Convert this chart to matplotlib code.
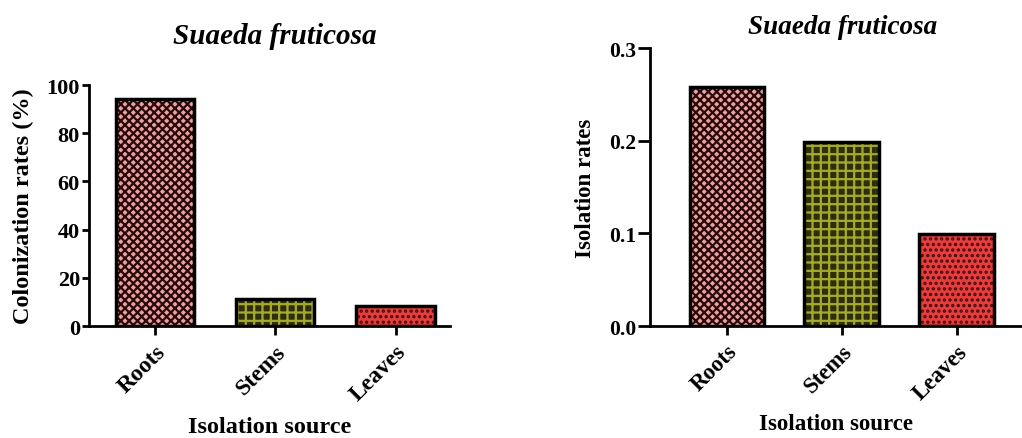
import numpy as np
import matplotlib.pyplot as plt

plt.rcParams['font.family'] = ['Liberation Serif', 'DejaVu Serif']
plt.rcParams['font.weight'] = 'bold'
plt.rcParams['hatch.linewidth'] = 1.6

sources = ['Roots', 'Stems', 'Leaves']
colonization = [94.2, 11.2, 8.3]
isolation = [0.258, 0.199, 0.099]
title = 'Suaeda fruticosa'

# base colour, hatch colour, hatch pattern per bar
bases = ['#e8a2a2', '#2e2e0a', '#e63e3e']
hatch_cols = ['#2a0808', '#a6aa2c', '#4a0c0c']
hatches = ['xxxx', '++', '...']


def draw(ax, vals, ymax, step, fmt, ylabel, tick_fs, xt_fs, lab_fs, xlab_fs, xlim,
         ytick_len, ypad, xpad):
    x = np.arange(len(sources))
    for i in range(len(sources)):
        ax.bar(x[i], vals[i], 0.65, color=bases[i], edgecolor=hatch_cols[i],
               hatch=hatches[i], linewidth=0)
    ax.bar(x, vals, 0.65, fill=False, edgecolor='black', linewidth=2.5)
    ax.set_xlim(*xlim)
    ax.set_ylim(0, ymax)
    ticks = np.arange(0, ymax + step / 2, step)
    ax.set_yticks(ticks)
    ax.set_yticklabels([fmt.format(v) for v in ticks], fontsize=tick_fs, fontweight='bold')
    ax.set_xticks(x)
    ax.set_xticklabels(sources, rotation=45, ha='right', rotation_mode='anchor',
                       fontsize=xt_fs, fontweight='bold')
    for s in ['top', 'right']:
        ax.spines[s].set_visible(False)
    for s in ['left', 'bottom']:
        ax.spines[s].set_linewidth(2)
    ax.tick_params(axis='y', width=2, length=ytick_len, pad=1.5)
    ax.tick_params(axis='x', width=2, length=6.5, pad=4)
    ax.set_ylabel(ylabel, fontsize=lab_fs, fontweight='bold', labelpad=ypad)
    ax.set_xlabel('Isolation source', fontsize=xlab_fs, fontweight='bold', labelpad=xpad)


fig = plt.figure(figsize=(10.22, 4.39), dpi=100)
ax1 = fig.add_axes([0.087, 0.255, 0.353, 0.549])
ax2 = fig.add_axes([0.636, 0.255, 0.364, 0.633])

draw(ax1, colonization, 100, 20, '{:.0f}', 'Colonization rates (%)', 16, 17, 17.5, 17.5,
     (-0.55, 2.45), 5, 9, 8.5)
draw(ax2, isolation, 0.3, 0.1, '{:.1f}', 'Isolation rates', 15.5, 16.5, 16.5, 16.5,
     (-0.67, 2.57), 8.5, 9, 7)

fig.text(0.269, 1 - 37 / 439, title, ha='center', va='center', fontsize=21,
         fontweight='bold', style='italic')
fig.text(0.824, 1 - 27 / 439, title, ha='center', va='center', fontsize=19.5,
         fontweight='bold', style='italic')

fig.savefig('out.png', dpi=100)
